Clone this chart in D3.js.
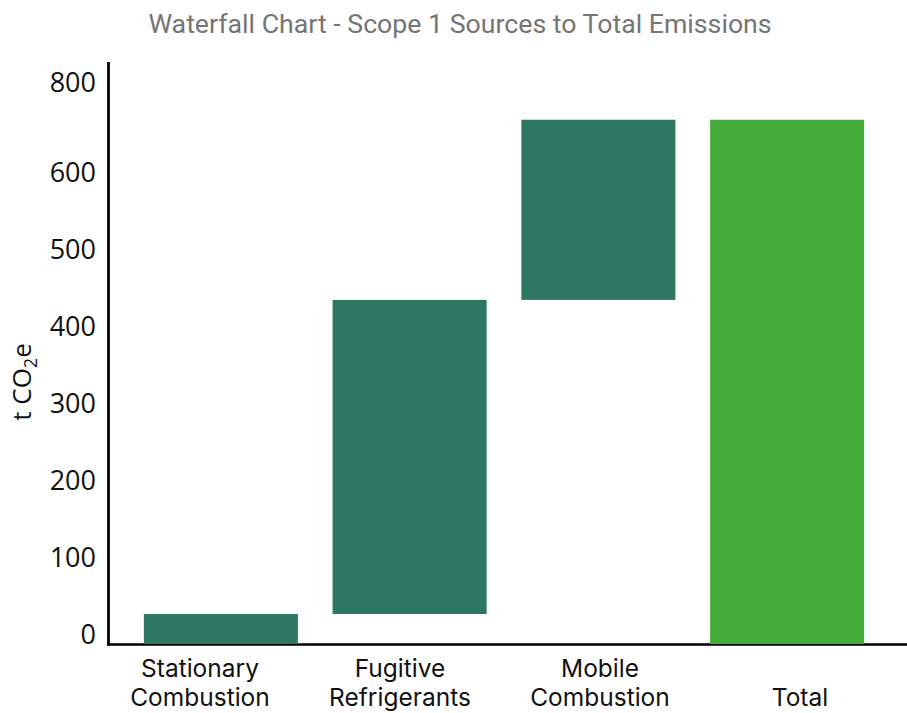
<!DOCTYPE html>
<html>
<head>
<meta charset="utf-8">
<script src="https://cdn.jsdelivr.net/npm/d3@7"></script>
<style>
  html, body { margin: 0; padding: 0; background: #fff; }
  svg { display: block; }
</style>
</head>
<body>
<svg id="chart" width="907" height="713"></svg>
<script>
// Scope 1 sources (t CO2e), stacked into a running total
const categories = ["Stationary Combustion", "Fugitive Refrigerants", "Mobile Combustion", "Total"];
const categoryLines = [["Stationary", "Combustion"], ["Fugitive", "Refrigerants"], ["Mobile", "Combustion"], ["Total"]];
const sourceValues = [39, 408, 234];
const yTickValues = [0, 100, 200, 300, 400, 500, 600, 800];

const stepColor = "#2e7762";
const totalColor = "#43ac39";

// Build the waterfall steps: each source floats on the running sum, total starts from zero
let running = 0;
const steps = sourceValues.map((v, i) => {
  const s = { name: categories[i], start: running, end: running + v, total: false };
  running += v;
  return s;
});
steps.push({ name: categories[3], start: 0, end: running, total: true });

const svg = d3.select("#chart");
const plotLeft = 108, plotRight = 900, plotTop = 62, plotBottom = 644;

const x = d3.scaleBand()
  .domain(categories)
  .range([plotLeft, plotRight])
  .paddingInner(0.184)
  .paddingOuter(0.19);

const xLabel = d3.scaleBand()
  .domain(categories)
  .range([100, 900]);

const y = d3.scaleLinear()
  .domain([0, 756])
  .range([plotBottom, plotTop]);

// Title
svg.append("text")
  .attr("x", 460)
  .attr("y", 33)
  .attr("text-anchor", "middle")
  .attr("font-family", "Roboto, sans-serif")
  .attr("font-size", 26.7)
  .attr("fill", "#757575")
  .text("Waterfall Chart - Scope 1 Sources to Total Emissions");

// Axis lines
svg.append("line")
  .attr("x1", plotLeft + 0.5).attr("x2", plotLeft + 0.5)
  .attr("y1", plotTop).attr("y2", plotBottom + 1.5)
  .attr("stroke", "#000").attr("stroke-width", 2.8);
svg.append("line")
  .attr("x1", plotLeft - 1).attr("x2", 907)
  .attr("y1", plotBottom + 0.5).attr("y2", plotBottom + 0.5)
  .attr("stroke", "#000").attr("stroke-width", 2.5);

// Bars
svg.append("g").selectAll("rect")
  .data(steps)
  .join("rect")
  .attr("x", d => x(d.name))
  .attr("width", x.bandwidth())
  .attr("y", d => y(d.end))
  .attr("height", d => y(d.start) - y(d.end))
  .attr("fill", d => d.total ? totalColor : stepColor);

// Y tick labels (baseline sits on the value, kept inside the plot area)
svg.append("g").selectAll("text")
  .data(yTickValues)
  .join("text")
  .attr("x", 96)
  .attr("y", d => Math.max(y(d), plotTop + 30))
  .attr("text-anchor", "end")
  .attr("font-family", "'Open Sans', sans-serif")
  .attr("font-size", 27)
  .attr("fill", "#111")
  .text(d => d);

// Y axis title
const yTitle = svg.append("text")
  .attr("transform", "translate(31,382) rotate(-90)")
  .attr("text-anchor", "middle")
  .attr("font-family", "'Open Sans', sans-serif")
  .attr("font-size", 26)
  .attr("fill", "#111");
yTitle.append("tspan").text("t CO");
yTitle.append("tspan").attr("font-size", 18).attr("dy", 6).text("2");
yTitle.append("tspan").attr("dy", -6).text("e");

// X category labels, bottom-aligned in two lines
const xg = svg.append("g");
categories.forEach((c, i) => {
  const lines = categoryLines[i];
  const cx = xLabel(c) + xLabel.bandwidth() / 2;
  lines.forEach((ln, j) => {
    xg.append("text")
      .attr("x", cx)
      .attr("y", 706 - (lines.length - 1 - j) * 29)
      .attr("text-anchor", "middle")
      .attr("font-family", "Inter, sans-serif")
      .attr("font-size", 24.5)
      .attr("fill", "#111")
      .text(ln);
  });
});
</script>
</body>
</html>
